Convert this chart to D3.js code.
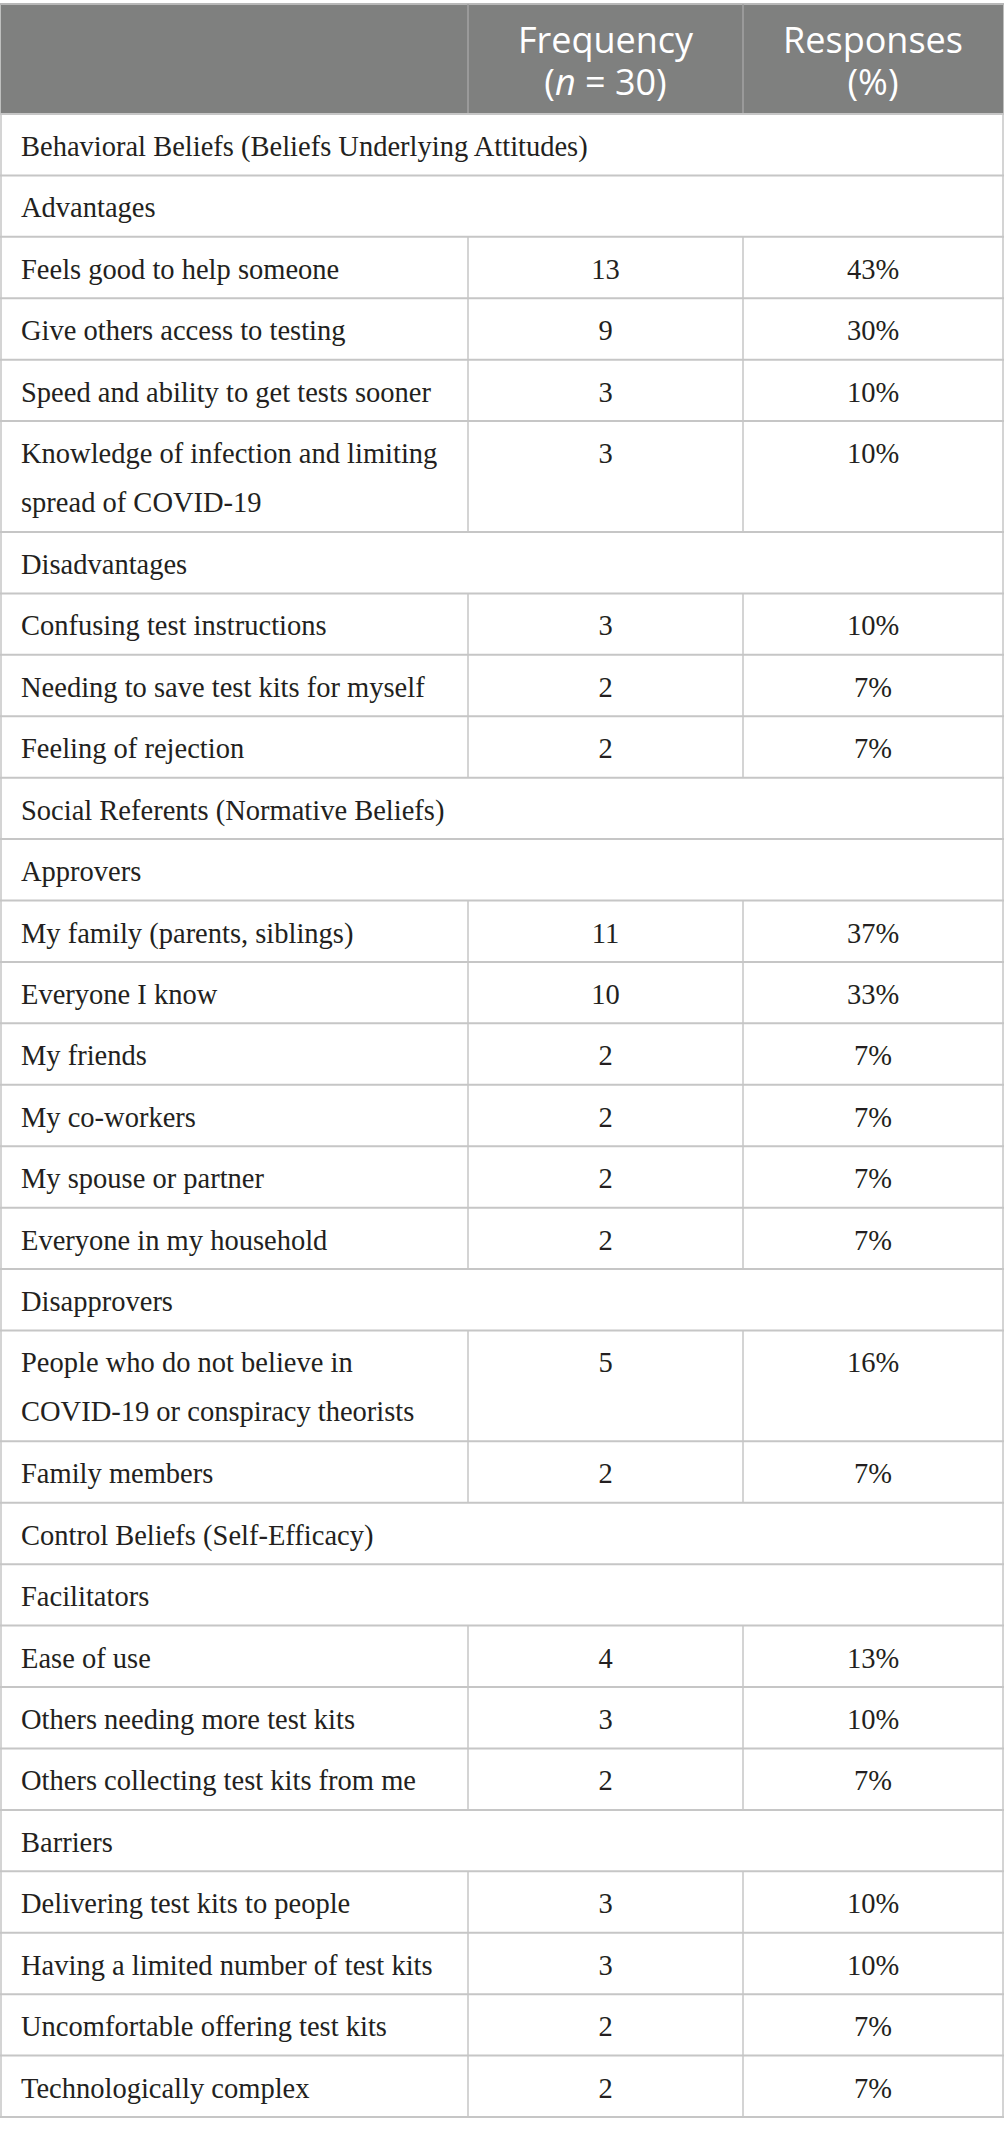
<!DOCTYPE html>
<html>
<head>
<meta charset="utf-8">
<script src="https://cdn.jsdelivr.net/npm/d3@7"></script>
<style>
  body { margin: 0; background: #fff; }
</style>
</head>
<body>
<script>
// table content, row by row; rows with no frequency are section / group headings
var rowLabels = [
  'Behavioral Beliefs (Beliefs Underlying Attitudes)',
  'Advantages',
  'Feels good to help someone',
  'Give others access to testing',
  'Speed and ability to get tests sooner',
  'Knowledge of infection and limiting|spread of COVID-19',
  'Disadvantages',
  'Confusing test instructions',
  'Needing to save test kits for myself',
  'Feeling of rejection',
  'Social Referents (Normative Beliefs)',
  'Approvers',
  'My family (parents, siblings)',
  'Everyone I know',
  'My friends',
  'My co-workers',
  'My spouse or partner',
  'Everyone in my household',
  'Disapprovers',
  'People who do not believe in|COVID-19 or conspiracy theorists',
  'Family members',
  'Control Beliefs (Self-Efficacy)',
  'Facilitators',
  'Ease of use',
  'Others needing more test kits',
  'Others collecting test kits from me',
  'Barriers',
  'Delivering test kits to people',
  'Having a limited number of test kits',
  'Uncomfortable offering test kits',
  'Technologically complex'
];
var frequencies = [null, null, 13, 9, 3, 3, null, 3, 2, 2, null, null, 11, 10, 2, 2, 2, 2, null, 5, 2, null, null, 4, 3, 2, null, 3, 3, 2, 2];
var percents    = [null, null, '43%', '30%', '10%', '10%', null, '10%', '7%', '7%', null, null, '37%', '33%', '7%', '7%', '7%', '7%', null, '16%', '7%', null, null, '13%', '10%', '7%', null, '10%', '10%', '7%', '7%'];
var columns = ['label', 'freq', 'pct'];

var width = 1004, height = 2135;
var headTop = 4, headBottom = 114, tableBottom = 2117;
var extraLine = 0.805; // height of each extra text line, in single-row units
var lineGap = 49;

var svg = d3.select('body').append('svg').attr('width', width).attr('height', height);

// rows with their cumulative offsets (in single-row units)
var rows = rowLabels.map((l, i) => ({
  lines: l.split('|'),
  freq: frequencies[i],
  pct: percents[i],
  section: frequencies[i] === null
}));
var acc = 0;
rows.forEach(r => {
  r.u0 = acc;
  acc += 1 + extraLine * (r.lines.length - 1);
  r.u1 = acc;
});

var y = d3.scaleLinear().domain([0, acc]).range([headBottom, tableBottom]);
var colX = d3.scaleOrdinal().domain(columns).range([0, 468, 743]);
var colEnd = d3.scaleOrdinal().domain(columns).range([468, 743, 1003]);
var colMid = c => (colX(c) + colEnd(c)) / 2;

var lineCol = '#c6c6c6';

// header
svg.append('rect').attr('x', 0.5).attr('y', headTop).attr('width', 1003).attr('height', headBottom - headTop)
  .attr('fill', '#7f807f');
svg.append('line').attr('x1', 0).attr('x2', 1004).attr('y1', headTop).attr('y2', headTop)
  .attr('stroke', '#b8b8b8').attr('stroke-width', 2);
svg.selectAll('.hsep').data(columns.slice(1)).join('line').attr('class', 'hsep')
  .attr('x1', d => colX(d)).attr('x2', d => colX(d)).attr('y1', headTop).attr('y2', headBottom)
  .attr('stroke', '#a3a3a3').attr('stroke-width', 1.5);

var head = svg.append('g').attr('font-family', '"Open Sans", sans-serif').attr('font-size', 36)
  .attr('fill', '#fff').attr('text-anchor', 'middle');
head.append('text').attr('x', colMid('freq')).attr('y', 53).text('Frequency');
var t2 = head.append('text').attr('x', colMid('freq')).attr('y', 95);
t2.append('tspan').text('(');
t2.append('tspan').attr('font-style', 'italic').text('n');
t2.append('tspan').text('\u00a0= 30)');
head.append('text').attr('x', colMid('pct')).attr('y', 53).text('Responses');
head.append('text').attr('x', colMid('pct')).attr('y', 95).text('(%)');

// body rows
var body = svg.append('g').attr('font-family', '"Liberation Serif", "Times New Roman", serif')
  .attr('font-size', 28.5).attr('fill', '#231f20');

var g = body.selectAll('.row').data(rows).join('g').attr('class', 'row');

g.append('text').attr('x', 21)
  .selectAll('tspan').data(d => d.lines.map((l, k) => ({ l: l, k: k, top: y(d.u0) })))
  .join('tspan').attr('x', 21).attr('y', d => d.top + 42 + d.k * lineGap).text(d => d.l);

g.filter(d => !d.section).append('text').attr('text-anchor', 'middle')
  .attr('x', colMid('freq')).attr('y', d => y(d.u0) + 42).text(d => d.freq);
g.filter(d => !d.section).append('text').attr('text-anchor', 'middle')
  .attr('x', colMid('pct')).attr('y', d => y(d.u0) + 42).text(d => d.pct);

// vertical cell separators for data rows
g.filter(d => !d.section).selectAll('.vsep').data(d => columns.slice(1).map(c => ({ c: c, d: d })))
  .join('line').attr('class', 'vsep')
  .attr('x1', e => colX(e.c)).attr('x2', e => colX(e.c))
  .attr('y1', e => y(e.d.u0)).attr('y2', e => y(e.d.u1))
  .attr('stroke', lineCol).attr('stroke-width', 1.5);

// horizontal rules
var bounds = [0].concat(rows.map(r => r.u1));
svg.selectAll('.hrule').data(bounds).join('line').attr('class', 'hrule')
  .attr('x1', 0).attr('x2', 1004).attr('y1', d => y(d)).attr('y2', d => y(d))
  .attr('stroke', lineCol).attr('stroke-width', 2);

// outer side borders
svg.selectAll('.side').data([1, 1003]).join('line').attr('class', 'side')
  .attr('x1', d => d).attr('x2', d => d).attr('y1', headBottom).attr('y2', tableBottom)
  .attr('stroke', lineCol).attr('stroke-width', 1.5);
</script>
</body>
</html>
